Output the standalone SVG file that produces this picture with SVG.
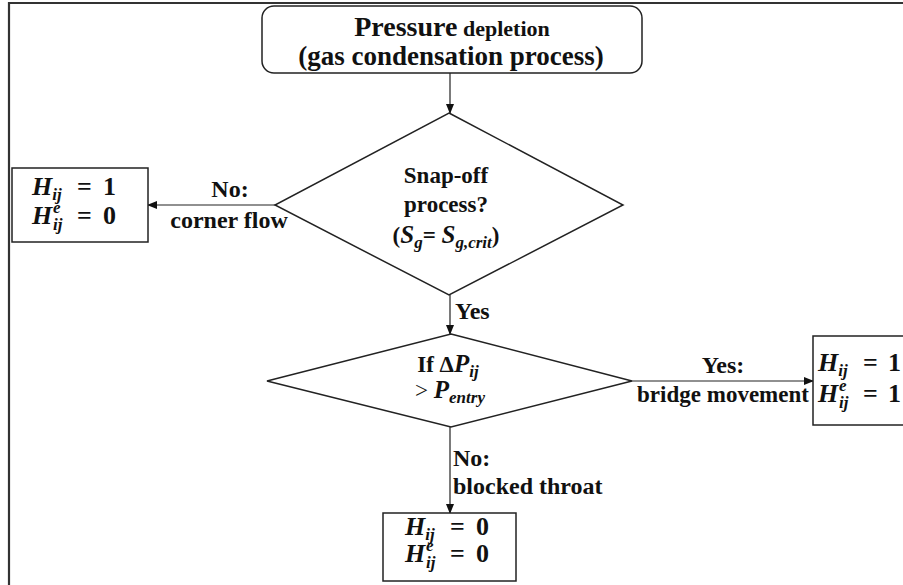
<svg xmlns="http://www.w3.org/2000/svg" width="903" height="585" viewBox="0 0 903 585">
<defs>
<marker id="arr" markerWidth="10" markerHeight="10" refX="9" refY="5" orient="auto" markerUnits="userSpaceOnUse">
<path d="M0,1 L10,5 L0,9 Z" fill="#111"/>
</marker>
<style>
.shape{fill:#fff;stroke:#222;stroke-width:1.5}
.conn{stroke:#222;stroke-width:1.2;fill:none}
.t{font-family:"Liberation Serif","Times New Roman",serif;font-weight:bold;fill:#111}
.lbl{font-size:24px}
.dl{font-size:23px}
.m{font-family:"Liberation Serif","Times New Roman",serif;font-weight:bold;fill:#111;font-size:26px}
.mi{font-style:italic}
.sub{font-size:17px;font-style:italic}
</style>
</defs>
<rect width="903" height="585" fill="#fff"/>
<path d="M9,585 L9,3 L903,3" fill="none" stroke="#333" stroke-width="2.2"/>

<g id="connectors">
<line class="conn" x1="450" y1="73" x2="450" y2="113" marker-end="url(#arr)"/>
<line class="conn" x1="275" y1="205" x2="148" y2="205" marker-end="url(#arr)"/>
<line class="conn" x1="450" y1="295" x2="450" y2="334" marker-end="url(#arr)"/>
<line class="conn" x1="632" y1="381" x2="813" y2="381" marker-end="url(#arr)"/>
<line class="conn" x1="450" y1="427" x2="450" y2="513" marker-end="url(#arr)"/>
<text class="t lbl" x="230" y="197" text-anchor="middle">No:</text>
<text class="t lbl" x="229" y="228" text-anchor="middle">corner flow</text>
<text class="t lbl" x="455" y="319">Yes</text>
<text class="t lbl" x="723" y="373" text-anchor="middle">Yes:</text>
<text class="t" font-size="23" x="723" y="402" text-anchor="middle">bridge movement</text>
<text class="t lbl" x="453" y="466">No:</text>
<text class="t lbl" x="453" y="494">blocked throat</text>
</g>

<g id="start">
<rect class="shape" x="262" y="6" width="380" height="67" rx="12"/>
<text class="t" x="452" y="36" text-anchor="middle"><tspan font-size="28">Pressure</tspan><tspan font-size="22"> depletion</tspan></text>
<text class="t" x="451" y="65" text-anchor="middle" font-size="27">(gas condensation process)</text>
</g>

<g id="snapoff">
<polygon class="shape" points="449,113 623,205 449,295 275,205"/>
<text class="t dl" x="446" y="183" text-anchor="middle">Snap-off</text>
<text class="t dl" x="446" y="212" text-anchor="middle">process?</text>
<text class="t dl" x="446" y="243" text-anchor="middle" font-weight="normal">(<tspan class="mi" font-weight="bold" font-size="25">S</tspan><tspan class="sub" font-weight="bold" dy="5">g</tspan><tspan font-weight="bold" dy="-5">= </tspan><tspan class="mi" font-weight="bold" font-size="25">S</tspan><tspan class="sub" font-weight="bold" dy="5">g,crit</tspan><tspan dy="-5">)</tspan></text>
</g>

<g id="pressure-check">
<polygon class="shape" points="451,334 632,381 451,427 267,381"/>
<text class="t dl" x="448" y="372" text-anchor="middle">If Δ<tspan class="mi" font-size="25">P</tspan><tspan class="sub" dy="5">ij</tspan></text>
<text class="t dl" x="450" y="398" text-anchor="middle"><tspan font-weight="normal">&gt; </tspan><tspan class="mi" font-size="25">P</tspan><tspan class="sub" dy="5">entry</tspan></text>
</g>

<g id="corner-flow-result">
<rect class="shape" x="12" y="168" width="136" height="74"/>
<text class="m" x="32" y="195"><tspan class="mi">H</tspan><tspan class="sub" dy="5">ij</tspan><tspan x="77" dy="-5">=</tspan><tspan x="103">1</tspan></text>
<text class="m" x="32" y="224"><tspan class="mi">H</tspan><tspan class="sub" x="53" dy="-11">e</tspan><tspan class="sub" x="53" dy="17">ij</tspan><tspan x="77" dy="-6">=</tspan><tspan x="103">0</tspan></text>
</g>

<g id="bridge-result">
<rect class="shape" x="813" y="336" width="100" height="89"/>
<text class="m" x="818" y="371"><tspan class="mi">H</tspan><tspan class="sub" dy="5">ij</tspan><tspan x="863" dy="-5">=</tspan><tspan x="888">1</tspan></text>
<text class="m" x="818" y="402"><tspan class="mi">H</tspan><tspan class="sub" x="839" dy="-11">e</tspan><tspan class="sub" x="839" dy="17">ij</tspan><tspan x="863" dy="-6">=</tspan><tspan x="888">1</tspan></text>
</g>

<g id="blocked-result">
<rect class="shape" x="383" y="513" width="133" height="68"/>
<text class="m" x="405" y="535"><tspan class="mi">H</tspan><tspan class="sub" dy="5">ij</tspan><tspan x="450" dy="-5">=</tspan><tspan x="476">0</tspan></text>
<text class="m" x="405" y="562"><tspan class="mi">H</tspan><tspan class="sub" x="426" dy="-11">e</tspan><tspan class="sub" x="426" dy="17">ij</tspan><tspan x="450" dy="-6">=</tspan><tspan x="476">0</tspan></text>
</g>
</svg>
